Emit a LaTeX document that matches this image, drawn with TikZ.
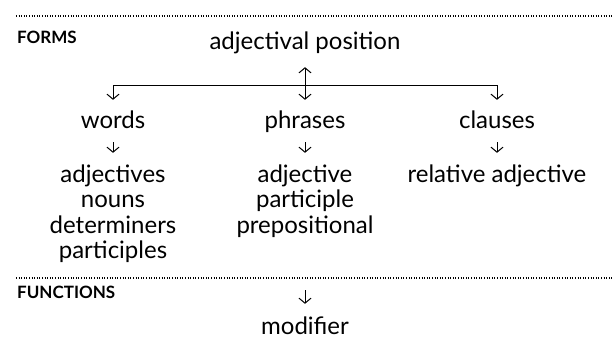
\documentclass[tikz,border=0pt]{standalone}
\usepackage{fontspec}
\setmainfont{Lato}
\usetikzlibrary{arrows.meta,positioning}

\tikzset{
	barb/.tip={Straight Barb[length=5pt,width=12pt,line width=1pt]},
}

\begin{document}
\begin{tikzpicture}[x=1pt, y=-1pt,
	every node/.style={inner sep=0pt},
	head/.style={anchor=base west, font=\fontsize{17}{17}\selectfont\bfseries},
	item/.style={anchor=base, text height=14pt, text depth=4pt, font=\fontsize{24}{25}\selectfont},
	rule/.style={line width=1.1pt, dash pattern=on 1pt off 1.6pt},
	link/.style={line width=0.9pt, -barb},
	]
	\useasboundingbox (0,0) rectangle (614,346);
	% Dotted rules and section heads:
	\draw[rule] (16,16) -- (614,16);
	\draw[rule] (16,278) -- (614,278);
	\node[head] (forms) at (17,43) {FORMS};
	\node[head] (functions) at (17,298) {FUNCTIONS};
	% Forms:
	\node[item] (title) at (305,49) {adjectival position};
	\node[item] (words) at (113,128) {words};
	\node[item] (phrases) at (305,128) {phrases};
	\node[item] (clauses) at (497,128) {clauses};
	\node[item] (adjectives) at (113,182) {adjectives};
	\node[item] (nouns) at (113,207) {nouns};
	\node[item] (determiners) at (113,233) {determiners};
	\node[item] (participles) at (113,258) {participles};
	\node[item] (adjective) at (305,182) {adjective};
	\node[item] (participle) at (305,207) {participle};
	\node[item] (prepositional) at (305,233) {prepositional};
	\node[item] (relative) at (497,182) {relative adjective};
	% Functions:
	\node[item] (modifier) at (305,334) {modifier};
	\coordinate (fnarrow) at (305,290);
	% Branch from the title:
	\coordinate (branchL) at (113,85);
	\coordinate (branchR) at (497,85);
	\draw[line width=0.9pt] (branchL) -- (branchR);
	\draw[link, barb-barb, shorten <=14pt, shorten >=14pt] (title) -- (phrases);
	\draw[link, shorten >=14pt] (branchL) -- (words);
	\draw[link, shorten >=14pt] (branchR) -- (clauses);
	% Arrows within the columns:
	\draw[link, shorten <=10pt, shorten >=15pt] (words) -- (adjectives);
	\draw[link, shorten <=10pt, shorten >=15pt] (phrases) -- (adjective);
	\draw[link, shorten <=10pt, shorten >=15pt] (clauses) -- (relative);
	\draw[link, shorten >=16pt] (fnarrow) -- (modifier);
\end{tikzpicture}
\end{document}
